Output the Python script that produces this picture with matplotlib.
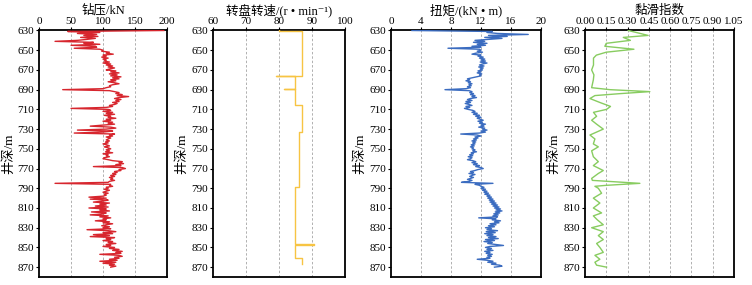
import numpy as np
import matplotlib
matplotlib.use('Agg')
import matplotlib.pyplot as plt

plt.rcParams['font.family'] = ['Liberation Serif', 'Noto Sans CJK SC', 'DejaVu Serif']
plt.rcParams['axes.unicode_minus'] = False

# depth grid for WOB and torque (1 m)
depth = np.arange(630, 871, 1)

# weight on bit, kN
wob = [195, 45, 95, 60, 90, 70, 92, 65, 88, 75,
       60, 25, 85, 70, 95, 50, 88, 90, 55, 95,
       100, 98, 110, 105, 116, 100, 105, 98, 108, 100,
       105, 102, 110, 100, 112, 105, 115, 108, 118, 110,
       105, 120, 112, 125, 110, 122, 112, 128, 115, 125,
       112, 120, 108, 118, 125, 115, 110, 112, 105, 100,
       37, 110, 118, 125, 120, 130, 122, 140, 125, 118,
       128, 120, 125, 115, 122, 118, 110, 115, 105, 50,
       108, 112, 100, 115, 105, 118, 102, 112, 108, 120,
       105, 112, 100, 115, 108, 118, 100, 80, 112, 120,
       105, 60, 115, 100, 55, 118, 110, 115, 105, 112,
       108, 105, 110, 104, 108, 100, 106, 110, 102, 108,
       112, 105, 110, 104, 115, 100, 108, 105, 110, 102,
       100, 108, 115, 130, 125, 132, 120, 128, 85, 130,
       135, 125, 128, 118, 122, 115, 120, 112, 118, 110,
       115, 112, 118, 110, 108, 25, 112, 110, 115, 105,
       108, 102, 110, 105, 100, 108, 102, 105, 100, 78,
       105, 80, 108, 100, 85, 110, 95, 105, 88, 108,
       78, 105, 95, 110, 82, 105, 100, 80, 108, 95,
       112, 100, 105, 88, 110, 100, 115, 105, 98, 110,
       100, 112, 75, 108, 120, 100, 115, 85, 110, 80,
       118, 105, 112, 100, 115, 108, 120, 105, 112, 100,
       118, 110, 125, 115, 130, 120, 128, 95, 125, 130,
       118, 125, 110, 122, 95, 120, 100, 118, 110, 120,
       112]

# torque, kN·m
torque = [2.8, 13.5, 12.8, 14.2, 18.3, 13.0, 15.5, 12.5, 14.8, 13.0,
          11.2, 12.5, 11.0, 12.8, 11.5, 12.6, 10.8, 12.0, 7.6, 11.8,
          12.0, 11.5, 12.2, 11.3, 10.8, 12.0, 11.6, 12.3, 11.8, 12.5,
          12.0, 12.6, 11.9, 12.8, 12.2, 11.8, 12.4, 11.7, 12.3, 11.9,
          12.2, 11.6, 12.0, 11.5, 12.1, 11.8, 12.0, 11.4, 10.8, 10.2,
          10.5, 10.0, 10.6, 10.3, 10.8, 10.4, 10.7, 10.2, 10.6, 10.0,
          7.2, 10.4, 10.8, 10.5, 11.0, 10.6, 11.2, 10.8, 11.4, 10.6,
          10.2, 10.8, 10.0, 10.6, 9.9, 10.4, 10.8, 10.0, 10.5, 9.8,
          10.3, 10.9, 11.2, 10.8, 11.5, 11.0, 11.8, 11.3, 12.0, 11.5,
          11.9, 12.3, 11.6, 12.2, 11.8, 12.6, 12.0, 12.4, 11.7, 12.5,
          12.2, 12.8, 12.0, 12.6, 11.8, 9.3, 11.5, 12.0, 11.2, 11.6,
          11.0, 11.4, 10.8, 11.3, 10.9, 11.2, 10.7, 11.1, 10.6, 11.0,
          10.8, 11.2, 10.9, 11.4, 10.7, 11.0, 10.5, 10.9, 10.3, 10.8,
          10.6, 10.2, 10.9, 11.3, 10.8, 11.5, 11.0, 11.8, 11.3, 12.0,
          12.3, 11.6, 11.2, 10.6, 11.0, 10.4, 11.2, 10.8, 10.5, 11.0,
          10.6, 10.2, 10.8, 10.4, 9.4, 13.6, 11.2, 11.8, 12.0, 12.4,
          12.0, 12.6, 12.2, 12.8, 12.4, 13.0, 12.5, 13.2, 12.8, 13.4,
          12.9, 13.6, 13.1, 13.8, 13.2, 14.0, 13.4, 14.2, 13.6, 14.4,
          13.8, 14.6, 14.0, 14.8, 13.9, 14.5, 13.7, 14.3, 13.6, 14.2,
          11.7, 14.0, 13.5, 14.6, 13.8, 14.4, 13.2, 14.0, 13.0, 13.8,
          12.6, 13.4, 12.8, 14.2, 12.7, 13.9, 12.5, 13.6, 12.8, 14.0,
          13.0, 14.3, 12.6, 13.8, 12.4, 13.5, 12.9, 14.0, 15.0, 13.2,
          12.6, 13.4, 12.8, 13.6, 12.5, 13.2, 12.7, 13.5, 12.9, 13.4,
          12.8, 13.2, 11.5, 12.8, 13.6, 12.9, 14.0, 13.4, 14.5, 14.8,
          13.8]

# rotary speed, r/min (constant intervals)
rpm_top = [630.0, 630.3, 676.0, 676.3, 689.0, 689.3, 706.0, 733.0, 789.0, 847.0, 847.3, 861.0]
rpm_bot = [630.3, 676.0, 676.3, 689.0, 689.3, 706.0, 733.0, 789.0, 847.0, 847.3, 861.0, 867.0]
rpm_val = [80, 87, 79, 85, 81.5, 85, 87, 86, 85, 90.6, 85, 87]

# stick-slip index
si_depth = [630, 635, 637, 640, 643, 646, 649, 652, 655, 658, 665, 670, 675, 680, 688,
            690, 692, 694, 696, 699, 703, 707, 710, 713, 717, 721, 725, 730, 733,
            736, 740, 745, 748, 752, 758, 763, 767, 772, 775, 780, 782, 785, 787, 788,
            790, 795, 800, 805, 810, 815, 818, 822, 827, 830, 834, 838, 842, 846,
            850, 855, 858, 862, 865, 868, 870]
si_value = [0.305, 0.445, 0.27, 0.32, 0.15, 0.14, 0.345, 0.15, 0.08, 0.06, 0.06, 0.047, 0.063, 0.059, 0.047,
            0.176, 0.457, 0.25, 0.07, 0.035, 0.105, 0.18, 0.152, 0.06, 0.082, 0.047, 0.082, 0.129, 0.082,
            0.035, 0.07, 0.059, 0.094, 0.047, 0.059, 0.094, 0.059, 0.129, 0.094, 0.047, 0.052, 0.387, 0.152, 0.07,
            0.094, 0.117, 0.059, 0.105, 0.059, 0.117, 0.059, 0.087, 0.129, 0.047, 0.129, 0.094, 0.129, 0.082,
            0.105, 0.129, 0.07, 0.105, 0.07, 0.082, 0.152]

# build vertical step polyline for rpm
rpm_x, rpm_y = [], []
for t, b, v in zip(rpm_top, rpm_bot, rpm_val):
    rpm_x += [v, v]
    rpm_y += [t, b]

fig = plt.figure(figsize=(7.52, 2.85), dpi=100)
bottom, height = 0.028, 0.865
lefts = [0.0519, 0.2832, 0.5199, 0.7779]
widths = [0.1702, 0.1755, 0.1995, 0.1981]

panels = [
    (wob, depth, '#d7262e', '钻压/kN', (0, 200), [0, 50, 100, 150, 200], '%d'),
    (rpm_x, rpm_y, '#f7c443', '转盘转速/(r • min\u207b\u00b9)', (60, 100), [60, 70, 80, 90, 100], '%d'),
    (torque, depth, '#3b6cc0', '扭矩/(kN • m)', (0, 20), [0, 4, 8, 12, 16, 20], '%d'),
    (si_value, si_depth, '#88cc60', '黏滑指数', (0, 1.05), list(np.arange(0, 1.06, 0.15)), '%.2f'),
]

for i, (xv, yv, col, title, xlim, xticks, fmt) in enumerate(panels):
    ax = fig.add_axes([lefts[i], bottom, widths[i], height])
    ax.plot(xv, yv, color=col, lw=1.0, zorder=3)
    ax.set_xlim(*xlim)
    ax.set_ylim(880, 630)
    ax.set_xticks(xticks)
    ax.set_xticklabels([fmt % t for t in xticks])
    ax.set_yticks(np.arange(630, 871, 20))
    ax.xaxis.tick_top()
    ax.xaxis.set_label_position('top')
    ax.set_xlabel(title, fontsize=9, labelpad=2)
    ax.set_ylabel('井深/m', fontsize=9.5, labelpad=2)
    ax.tick_params(axis='both', labelsize=8, length=2, width=0.8, pad=1.5, direction='out')
    for t in xticks[1:-1]:
        ax.axvline(t, color='#b0b0b0', lw=0.7, ls=(0, (2.5, 2)), zorder=1)
    for s in ax.spines.values():
        s.set_linewidth(1.3)

fig.savefig('out.png', dpi=100)
